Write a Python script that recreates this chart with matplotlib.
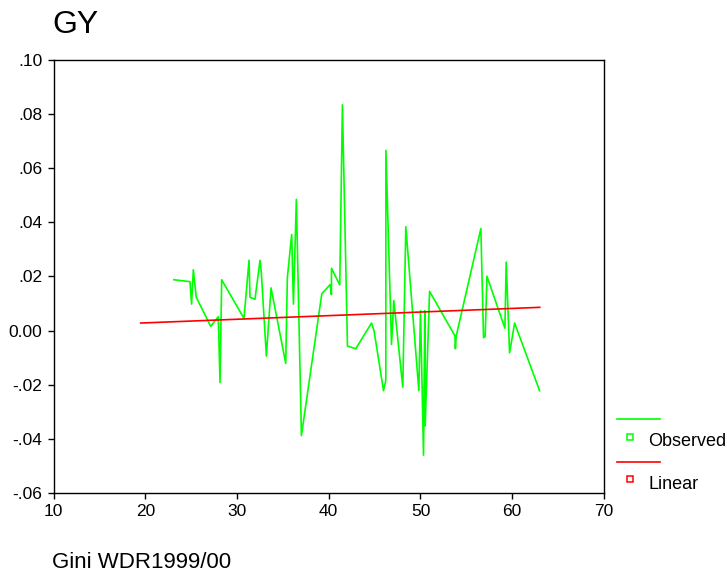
import matplotlib
matplotlib.use("Agg")
import matplotlib.pyplot as plt
from matplotlib.lines import Line2D

plt.rcParams['font.family'] = ['Liberation Sans', 'DejaVu Sans']

# Observed GY against Gini, ordered by Gini
gini = [23.12, 24.87, 25.05, 25.24, 25.56, 27.13, 27.96, 28.15, 28.33, 30.76,
        31.31, 31.42, 31.96, 32.51, 32.66, 33.20, 33.71, 35.31, 35.49, 35.96,
        36.15, 36.47, 37.02, 39.24, 40.15, 40.29, 40.30, 41.20, 41.49, 42.04,
        42.94, 44.66, 44.94, 45.97, 46.22, 46.23, 46.84, 47.09, 48.07, 48.40,
        49.82, 50.00, 50.33, 50.47, 50.51, 50.99, 53.75, 53.80, 53.90, 56.58,
        56.87, 57.05, 57.24, 59.20, 59.34, 59.71, 60.26, 62.98]
gy = [0.0188, 0.0181, 0.0098, 0.0225, 0.0123, 0.0016, 0.0051, -0.0192, 0.0188, 0.0045,
      0.0260, 0.0123, 0.0116, 0.0260, 0.0210, -0.0094, 0.0158, -0.0121, 0.0197, 0.0355,
      0.0098, 0.0485, -0.0388, 0.0136, 0.0170, 0.0133, 0.0230, 0.0169, 0.0834, -0.0057,
      -0.0067, 0.0028, -0.0001, -0.0222, -0.0183, 0.0666, -0.0051, 0.0111, -0.0209, 0.0384,
      -0.0222, 0.0073, -0.0460, 0.0073, -0.0352, 0.0145, -0.0019, -0.0067, -0.0019, 0.0377,
      -0.0026, -0.0022, 0.0201, 0.0009, 0.0253, -0.0082, 0.0028, -0.0222]

# linear fit line
fit_x = [19.5, 63.0]
fit_y = [0.0028, 0.0086]

xticks = [10, 20, 30, 40, 50, 60, 70]
yticks = [0.10, 0.08, 0.06, 0.04, 0.02, 0.00, -0.02, -0.04, -0.06]
ytick_labels = ['.10', '.08', '.06', '.04', '.02', '0.00', '-.02', '-.04', '-.06']

GREEN = '#00ff00'
RED = '#ff0000'

fig = plt.figure(figsize=(7.27, 5.75), dpi=100)
ax = fig.add_axes([0.0736, 0.1426, 0.7572, 0.7531])

ax.plot(gini, gy, color=GREEN, lw=1.2)
ax.plot(fit_x, fit_y, color=RED, lw=1.2)

ax.set_xlim(10, 70)
ax.set_ylim(-0.06, 0.10)
ax.set_xticks(xticks)
ax.set_yticks(yticks)
ax.set_yticklabels(ytick_labels)
ax.tick_params(direction='out', length=4, width=1, labelsize=12.5, pad=4)
for s in ax.spines.values():
    s.set_linewidth(1.0)

fig.text(0.0715, 0.9426, 'GY', fontsize=23, va='baseline', ha='left')
fig.text(0.0715, 0.0125, 'Gini WDR1999/00', fontsize=16, va='baseline', ha='left')

# legend at the right, outside the axes
for ly, sy, ty, label, col in [(0.2708, 0.2395, 0.2243, 'Observed', GREEN),
                               (0.197, 0.1664, 0.149, 'Linear', RED)]:
    fig.add_artist(Line2D([0.8487, 0.9078], [ly, ly], transform=fig.transFigure,
                          color=col, lw=1.2))
    fig.add_artist(Line2D([0.867], [sy], transform=fig.transFigure, marker='s',
                          markersize=5, mfc='white', mec=col, mew=1.1, ls='none'))
    fig.text(0.8917, ty, label, fontsize=13, va='baseline', ha='left')

fig.savefig('out.png', dpi=100)
